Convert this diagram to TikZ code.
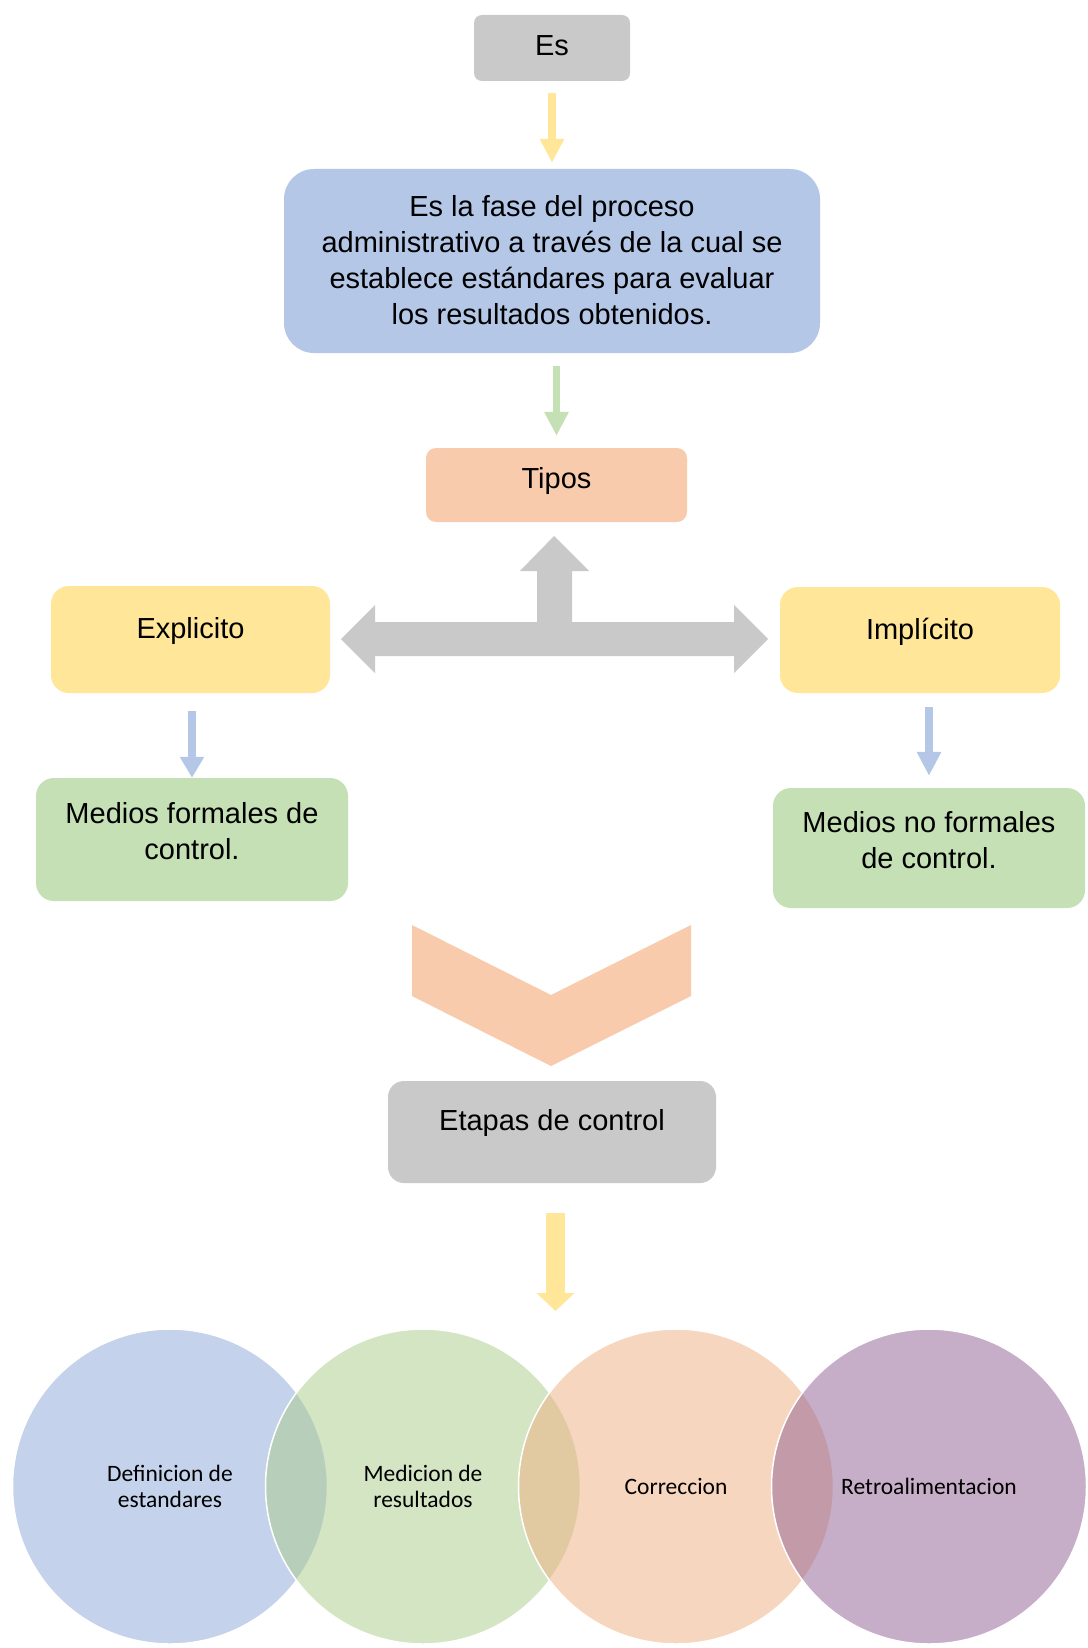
\documentclass[tikz,border=0pt]{standalone}
\usepackage{fontspec}
\setmainfont{Liberation Sans}
\newfontfamily\vennfont{Carlito}
\usetikzlibrary{arrows.meta}

\definecolor{boxgray}{HTML}{C9C9C9}
\definecolor{boxblue}{HTML}{B4C7E7}
\definecolor{boxpeach}{HTML}{F8CBAD}
\definecolor{boxyellow}{HTML}{FFE699}
\definecolor{boxgreen}{HTML}{C5E0B4}
\definecolor{vennblue}{RGB}{139,167,217}
\definecolor{venngreen}{RGB}{171,205,139}
\definecolor{vennpeach}{RGB}{239,175,127}
\definecolor{vennmauve}{RGB}{145,95,147}

\tikzset{
  box/.style={rectangle,fill=#1,align=center,inner sep=0pt,
    font=\fontsize{29}{36}\selectfont},
  oneline/.style={text height=21pt,text depth=#1},
  pipe/.style={draw=#1,line width=8pt,-{Triangle[width=23pt,length=24pt]}},
  venn/.style={circle,fill=#1,fill opacity=0.5,text opacity=1,draw=white,
    line width=1.5pt,minimum size=315pt,inner sep=0pt,align=center,
    font=\vennfont\fontsize{23.5}{26}\selectfont},
}

\begin{document}
\begin{tikzpicture}[x=1pt,y=-1pt]
  \path[use as bounding box,fill=white] (0,0) rectangle (1087,1648);

  \node[box=boxgray,minimum width=156pt,minimum height=66pt,rounded corners=8pt,oneline=5pt] (es) at (552,48) {Es};
  \node[box=boxblue,minimum width=536pt,minimum height=184pt,rounded corners=30pt] (fase) at (552,261)
    {Es la fase del proceso\\administrativo a través de la cual se\\establece estándares para evaluar\\los resultados obtenidos.\rule[-2pt]{0pt}{2pt}};
  \node[box=boxpeach,minimum width=261pt,minimum height=74pt,rounded corners=10pt,oneline=15pt] (tipos) at (556.5,485) {Tipos};
  \node[box=boxyellow,minimum width=279pt,minimum height=107pt,rounded corners=18pt,oneline=24pt] (explicito) at (190.5,639.5) {Explicito};
  \node[box=boxyellow,minimum width=280pt,minimum height=106pt,rounded corners=18pt,oneline=23pt] (implicito) at (920,640) {Implícito};
  \node[box=boxgreen,minimum width=312pt,minimum height=123pt,rounded corners=18pt] (formales) at (192,839.5)
    {Medios formales de\\control.\rule[-18pt]{0pt}{18pt}};
  \node[box=boxgreen,minimum width=312pt,minimum height=120pt,rounded corners=18pt] (noformales) at (929,848)
    {Medios no formales\\de control.\rule[-17pt]{0pt}{17pt}};
  \node[box=boxgray,minimum width=328pt,minimum height=102pt,rounded corners=16pt,oneline=25pt] (etapas) at (552,1132) {Etapas de control};

  \fill[boxgray] (341,639) -- (375,605) -- (375,622) -- (537,622) -- (537,571) -- (520,571)
    -- (554,536) -- (589,571) -- (572,571) -- (572,622) -- (734,622) -- (734,605)
    -- (768,639) -- (734,673) -- (734,656) -- (375,656) -- (375,673) -- cycle;

  \fill[boxpeach] (412,925) -- (551,995) -- (691,925) -- (691,996) -- (551,1066) -- (412,996) -- cycle;

  \node[venn=vennblue]  (c1) at (170,1486.5) {Definicion de\\estandares};
  \node[venn=venngreen] (c2) at (423,1486.5) {Medicion de\\resultados};
  \node[venn=vennpeach] (c3) at (676,1486.5) {Correccion};
  \node[venn=vennmauve] (c4) at (929,1486.5) {Retroalimentacion};
  \coordinate (venntop) at (555.5,1329);

  \draw[pipe=boxyellow,shorten <=12pt,shorten >=6pt] (es) -- (fase);
  \draw[pipe=boxgreen,line width=7pt,shorten <=13pt,shorten >=12pt] (fase.south -| tipos) -- (tipos.north);
  \draw[pipe=boxblue,-{Triangle[width=23pt,length=21pt]},shorten <=18pt] (explicito.south -| formales) -- (formales.north);
  \draw[pipe=boxblue,shorten <=14pt,shorten >=12pt] (implicito.south -| noformales) -- (noformales.north);
  \draw[pipe=boxyellow,line width=19pt,-{Triangle[width=37pt,length=18pt]},shorten <=30pt,shorten >=18pt] (etapas.south -| venntop) -- (venntop);

\end{tikzpicture}
\end{document}
